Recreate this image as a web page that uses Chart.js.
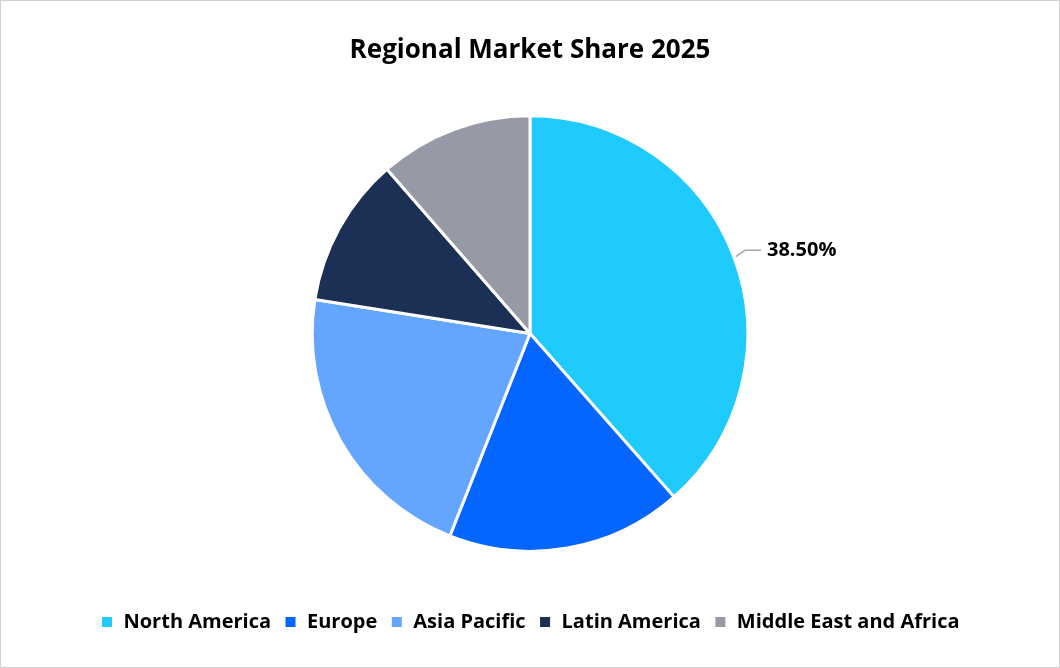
<!DOCTYPE html>
<html>
<head>
<meta charset="utf-8">
<script src="https://cdn.jsdelivr.net/npm/chart.js@4"></script>
<style>
  html, body { margin: 0; padding: 0; background: #fff; }
  #wrap { position: absolute; left: 0; top: 0; width: 1058px; height: 666px; border: 1px solid #d0d0d0; }
</style>
</head>
<body>
<div id="wrap"><canvas id="c"></canvas></div>
<script>
const regions = ['North America', 'Europe', 'Asia Pacific', 'Latin America', 'Middle East and Africa'];
const shares = [38.5, 17.5, 21.5, 11.1, 11.4];
const colors = ['#1ecbfc', '#0565ff', '#64a5ff', '#1c2f55', '#959aa6'];
const labeled = [0];

const fontFam = "'Open Sans', 'Liberation Sans', sans-serif";

const leaderLabels = {
  id: 'leaderLabels',
  afterDatasetsDraw(chart) {
    const ctx = chart.ctx;
    const meta = chart.getDatasetMeta(0);
    labeled.forEach(i => {
      const arc = meta.data[i];
      const mid = (arc.startAngle + arc.endAngle) / 2;
      const r = arc.outerRadius;
      const x0 = arc.x + Math.cos(mid) * r;
      const y0 = arc.y + Math.sin(mid) * r;
      const x1 = arc.x + Math.cos(mid) * (r + 12);
      const y1 = arc.y + Math.sin(mid) * (r + 12) - 2;
      ctx.save();
      ctx.strokeStyle = '#a6a6a6';
      ctx.lineWidth = 1.5;
      ctx.beginPath();
      ctx.moveTo(x0 + 2, y0);
      ctx.lineTo(x1, y1);
      ctx.lineTo(x1 + 16, y1);
      ctx.stroke();
      ctx.fillStyle = '#000';
      ctx.font = 'bold 20px ' + fontFam;
      ctx.textBaseline = 'middle';
      ctx.fillText(shares[i].toFixed(2) + '%', x1 + 22, y1);
      ctx.restore();
    });
  }
};

new Chart(document.getElementById('c'), {
  type: 'pie',
  data: {
    labels: regions,
    datasets: [{
      data: shares,
      backgroundColor: colors,
      borderColor: '#fff',
      borderWidth: 3
    }]
  },
  options: {
    responsive: true,
    maintainAspectRatio: false,
    animation: false,
    layout: { padding: { top: 0, bottom: 25 } },
    plugins: {
      title: {
        display: true,
        text: 'Regional Market Share 2025',
        color: '#000',
        font: { family: fontFam, size: 26, weight: 'bold' },
        padding: { top: 34, bottom: 48 }
      },
      legend: {
        position: 'bottom',
        title: { display: true, text: ' ', font: { size: 1 }, padding: { top: 45, bottom: 0 } },
        labels: {
          color: '#000',
          font: { family: fontFam, size: 20, weight: 'bold' },
          boxWidth: 13,
          boxHeight: 13,
          padding: 13
        }
      },
      tooltip: { enabled: false }
    }
  },
  plugins: [leaderLabels]
});
</script>
</body>
</html>
